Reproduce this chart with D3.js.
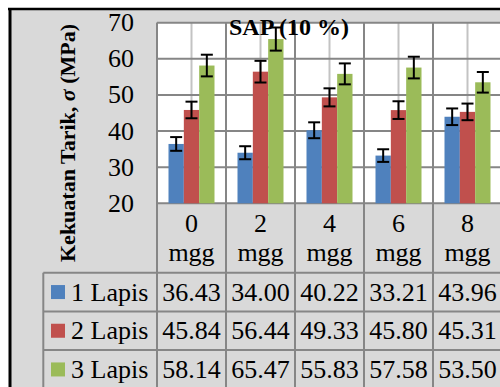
<!DOCTYPE html>
<html>
<head>
<meta charset="utf-8">
<script src="https://cdn.jsdelivr.net/npm/d3@7"></script>
<style>
  body { margin: 0; background: #fff; }
  svg { display: block; font-family: "Liberation Serif", "Times New Roman", serif; }
</style>
</head>
<body>
<div id="chart"></div>
<script>
// categories and series
const categories = ["0", "2", "4", "6", "8"];
const seriesNames = ["1 Lapis", "2 Lapis", "3 Lapis"];
const lapis1 = [36.43, 34.00, 40.22, 33.21, 43.96];
const lapis2 = [45.84, 56.44, 49.33, 45.80, 45.31];
const lapis3 = [58.14, 65.47, 55.83, 57.58, 53.50];
// error bar half-lengths
const err1 = [1.9, 1.8, 2.2, 1.75, 2.3];
const err2 = [2.3, 3.0, 2.5, 2.45, 2.3];
const err3 = [3.0, 3.2, 2.9, 3.0, 2.85];
const yTicks = [20, 30, 40, 50, 60, 70];
const colors = ["#4f81bd", "#c0504d", "#9bbb59"];

const seriesValues = [lapis1, lapis2, lapis3];
const seriesErr = [err1, err2, err3];

const width = 500, height = 387;
const plotLeft = 157, plotRight = 502, plotTop = 22.7, plotBottom = 203.3;
const tableTop = 272.7, rowH = 38.7, legendLeft = 43.3;

const svg = d3.select("#chart").append("svg")
  .attr("width", width)
  .attr("height", height);

// outer gray panel with black frame
svg.append("rect")
  .attr("x", 10).attr("y", 9)
  .attr("width", 500).attr("height", 400)
  .attr("fill", "#d9d9d9");
svg.append("line")
  .attr("x1", 8).attr("x2", 500).attr("y1", 9).attr("y2", 9)
  .attr("stroke", "#000").attr("stroke-width", 2.5);
svg.append("line")
  .attr("x1", 10).attr("x2", 10).attr("y1", 8).attr("y2", 387)
  .attr("stroke", "#000").attr("stroke-width", 3);

// scales
const x = d3.scaleBand().domain(categories).range([plotLeft, plotRight]);
const xSub = d3.scaleBand().domain(d3.range(3))
  .range([0, x.bandwidth()]).paddingOuter(0.75).paddingInner(0);
const y = d3.scaleLinear().domain([20, 70]).range([plotBottom, plotTop]);

// plot area
svg.append("rect")
  .attr("x", plotLeft).attr("y", plotTop)
  .attr("width", plotRight - plotLeft).attr("height", plotBottom - plotTop)
  .attr("fill", "#fff");

// minor vertical gridlines (category centers)
svg.selectAll(".minorV")
  .data(categories)
  .enter()
  .append("line")
  .attr("x1", d => x(d) + x.bandwidth() / 2)
  .attr("x2", d => x(d) + x.bandwidth() / 2)
  .attr("y1", plotTop).attr("y2", plotBottom)
  .attr("stroke", "#c3c3c3").attr("stroke-width", 2);

// horizontal gridlines
svg.selectAll(".gridH")
  .data(yTicks)
  .enter()
  .append("line")
  .attr("x1", plotLeft).attr("x2", plotRight)
  .attr("y1", d => y(d)).attr("y2", d => y(d))
  .attr("stroke", "#868686").attr("stroke-width", 2);

// major vertical lines at category boundaries, running down through the table
svg.selectAll(".majorV")
  .data(categories)
  .enter()
  .append("line")
  .attr("x1", d => x(d)).attr("x2", d => x(d))
  .attr("y1", plotTop).attr("y2", height)
  .attr("stroke", "#868686").attr("stroke-width", 2);

// bars
const groups = svg.selectAll(".grp")
  .data(categories)
  .enter()
  .append("g")
  .attr("transform", d => `translate(${x(d)},0)`);

groups.each(function (cat, ci) {
  const g = d3.select(this);
  seriesValues.forEach((vals, si) => {
    g.append("rect")
      .attr("x", xSub(si))
      .attr("y", y(vals[ci]))
      .attr("width", xSub.bandwidth())
      .attr("height", plotBottom - y(vals[ci]))
      .attr("fill", colors[si]);
  });
  seriesValues.forEach((vals, si) => {
    const cx = xSub(si) + xSub.bandwidth() / 2;
    const e = seriesErr[si][ci];
    const top = y(vals[ci] + e), bot = y(vals[ci] - e);
    g.append("line")
      .attr("x1", cx).attr("x2", cx).attr("y1", top).attr("y2", bot)
      .attr("stroke", "#000").attr("stroke-width", 2);
    [top, bot].forEach(yy => {
      g.append("line")
        .attr("x1", cx - 6).attr("x2", cx + 6).attr("y1", yy).attr("y2", yy)
        .attr("stroke", "#000").attr("stroke-width", 2);
    });
  });
});

// y tick labels
svg.selectAll(".yTick")
  .data(yTicks)
  .enter()
  .append("text")
  .attr("x", 134)
  .attr("y", d => y(d) + 8.5)
  .attr("text-anchor", "end")
  .style("font-size", "26px")
  .text(d => d);

// y axis title
svg.append("text")
  .attr("transform", "translate(75,143) rotate(-90)")
  .attr("text-anchor", "middle")
  .style("font-size", "22px")
  .style("font-weight", "bold")
  .html('Kekuatan Tarik, <tspan font-style="italic">σ</tspan> (MPa)');

// chart title
svg.append("text")
  .attr("x", 289)
  .attr("y", 35)
  .attr("text-anchor", "middle")
  .style("font-size", "24px")
  .style("font-weight", "bold")
  .text("SAP (10 %)");

// category labels
const catText = svg.selectAll(".cat")
  .data(categories)
  .enter()
  .append("text")
  .attr("text-anchor", "middle")
  .style("font-size", "26px");
catText.append("tspan")
  .attr("x", d => x(d) + x.bandwidth() / 2).attr("y", 231.5)
  .text(d => d);
catText.append("tspan")
  .attr("x", d => x(d) + x.bandwidth() / 2).attr("y", 261)
  .text("mgg");

// data table lines
svg.append("line")
  .attr("x1", legendLeft).attr("x2", legendLeft)
  .attr("y1", tableTop).attr("y2", height)
  .attr("stroke", "#868686").attr("stroke-width", 2);
svg.append("line")
  .attr("x1", plotLeft).attr("x2", plotLeft)
  .attr("y1", plotTop).attr("y2", height)
  .attr("stroke", "#868686").attr("stroke-width", 2);
svg.selectAll(".rowLine")
  .data(d3.range(4))
  .enter()
  .append("line")
  .attr("x1", legendLeft).attr("x2", width)
  .attr("y1", i => tableTop + i * rowH).attr("y2", i => tableTop + i * rowH)
  .attr("stroke", "#868686").attr("stroke-width", 2);

// table rows
seriesNames.forEach((name, si) => {
  const rowTop = tableTop + si * rowH;
  svg.append("rect")
    .attr("x", 51).attr("y", rowTop + rowH / 2 - 7)
    .attr("width", 14).attr("height", 14)
    .attr("fill", colors[si]);
  svg.append("text")
    .attr("x", 71).attr("y", rowTop + 28)
    .style("font-size", "26px")
    .text(name);
  svg.selectAll(".val" + si)
    .data(seriesValues[si])
    .enter()
    .append("text")
    .attr("x", (d, i) => x(categories[i]) + x.bandwidth() / 2)
    .attr("y", rowTop + 28)
    .attr("text-anchor", "middle")
    .style("font-size", "26px")
    .text(d => d.toFixed(2));
});
</script>
</body>
</html>
